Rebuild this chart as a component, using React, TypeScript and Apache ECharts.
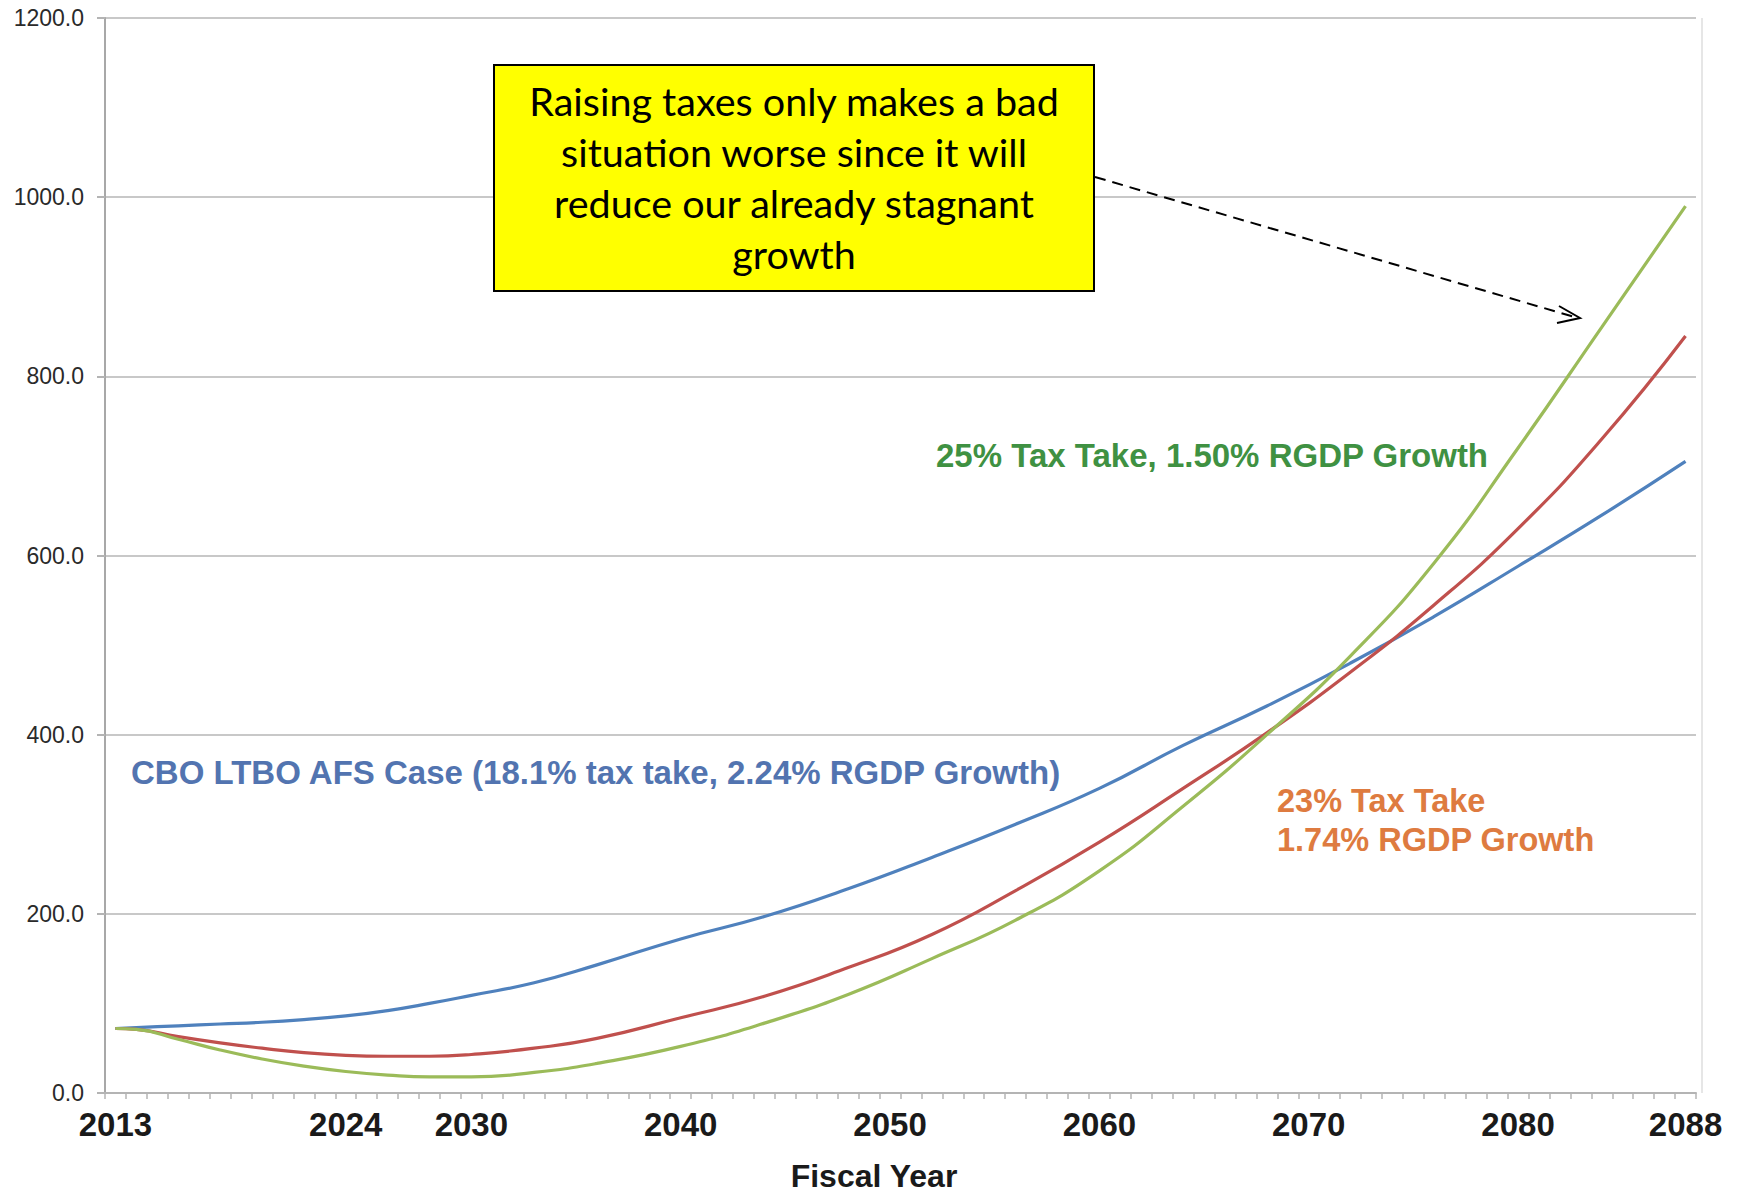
import React, { useEffect, useRef } from "react";
import * as echarts from "echarts";

// Category axis: fiscal years 2013..2088
const categoryYears: string[] = Array.from({ length: 76 }, (_, i) => String(2013 + i));
const labelYears = ["2013", "2024", "2030", "2040", "2050", "2060", "2070", "2080", "2088"];
const yTicks = [0, 200, 400, 600, 800, 1000, 1200];

const sampleYears = [2013, 2014, 2016, 2018, 2020, 2022, 2024, 2026, 2028, 2030, 2033, 2036, 2040, 2044, 2048, 2052, 2056, 2060, 2064, 2068, 2072, 2076, 2080, 2084, 2088];
const cboValues = [72, 73, 75, 77, 79, 82, 86, 92, 100, 109, 123, 143, 172, 197, 228, 263, 300, 340, 388, 432, 480, 532, 588, 645, 705];
const tax23Values = [72, 71, 63, 56, 50, 45, 42, 41, 41, 43, 50, 61, 84, 108, 140, 177, 226, 280, 340, 402, 470, 545, 630, 730, 845];
const tax25Values = [72, 71, 60, 48, 38, 30, 24, 20, 18, 18, 23, 33, 52, 78, 110, 150, 193, 248, 320, 400, 488, 592, 720, 855, 990];

const seriesNames = [
  "CBO LTBO AFS Case (18.1% tax take, 2.24% RGDP Growth)",
  "23% Tax Take 1.74% RGDP Growth",
  "25% Tax Take, 1.50% RGDP Growth",
];
const calloutText = [
  "Raising taxes only makes a bad",
  "situation worse since it will",
  "reduce our already stagnant",
  "growth",
];

const pair = (vals: number[]) => sampleYears.map((y, i) => [y, vals[i]]);

export default function App() {
  const ref = useRef<HTMLDivElement>(null);
  useEffect(() => {
    const chart = echarts.init(ref.current!, null, { renderer: "svg" });
    const mkSeries = (name: string, vals: number[], color: string) => ({
      name,
      type: "line",
      xAxisIndex: 1,
      data: pair(vals),
      smooth: 0.5,
      showSymbol: false,
      symbol: "none",
      lineStyle: { color, width: 3.2 },
    });
    chart.setOption({
      animation: false,
      backgroundColor: "#ffffff",
      grid: { left: 105, right: 48, top: 18, bottom: 101, containLabel: false },
      xAxis: [
        {
          type: "category",
          data: categoryYears,
          boundaryGap: true,
          axisLine: { show: true, lineStyle: { color: "#b4b4b4", width: 2 } },
          axisTick: { show: true, interval: 0, length: 6, lineStyle: { color: "#b4b4b4", width: 1.5 } },
          axisLabel: {
            interval: (_idx: number, value: string) => labelYears.includes(value),
            margin: 15,
            fontFamily: "Liberation Sans, Arial, sans-serif",
            fontWeight: "bold",
            fontSize: 33,
            color: "#1a1a1a",
          },
          splitLine: { show: false },
        },
        {
          type: "value",
          min: 2012.5,
          max: 2088.5,
          show: false,
          splitLine: { show: false },
        },
      ],
      yAxis: {
        type: "value",
        min: 0,
        max: 1200,
        interval: 200,
        axisLine: { show: true, lineStyle: { color: "#a8a8a8", width: 2 } },
        axisTick: { show: true, length: 8, lineStyle: { color: "#b4b4b4", width: 2 } },
        axisLabel: {
          formatter: (v: number) => (yTicks.includes(v) ? v.toFixed(1) : ""),
          margin: 21,
          fontFamily: "Liberation Sans, Arial, sans-serif",
          fontSize: 23,
          color: "#2a2a2a",
        },
        splitLine: { show: true, lineStyle: { color: "#c8c8c8", width: 2 } },
      },
      series: [
        mkSeries(seriesNames[0], cboValues, "#4f81bd"),
        mkSeries(seriesNames[1], tax23Values, "#c0504d"),
        mkSeries(seriesNames[2], tax25Values, "#9bbb59"),
      ],
      graphic: [
        {
          type: "line",
          shape: { x1: 1702, y1: 18, x2: 1702, y2: 1093 },
          style: { stroke: "#e6e6e6", lineWidth: 2 },
          silent: true,
        },
        {
          type: "text",
          x: 1212,
          y: 455,
          style: {
            text: seriesNames[2],
            fontFamily: "Liberation Sans, Arial, sans-serif",
            fontWeight: "bold",
            fontSize: 33,
            fill: "#3f9142",
            textAlign: "center",
            textVerticalAlign: "middle",
          },
        },
        {
          type: "text",
          x: 131,
          y: 772,
          style: {
            text: seriesNames[0],
            fontFamily: "Liberation Sans, Arial, sans-serif",
            fontWeight: "bold",
            fontSize: 33,
            fill: "#5274b0",
            textAlign: "left",
            textVerticalAlign: "middle",
          },
        },
        {
          type: "text",
          x: 1277,
          y: 820,
          style: {
            text: "23% Tax Take\n1.74% RGDP Growth",
            fontFamily: "Liberation Sans, Arial, sans-serif",
            fontWeight: "bold",
            fontSize: 32.5,
            lineHeight: 39,
            fill: "#de7b40",
            textAlign: "left",
            textVerticalAlign: "middle",
          },
        },
        {
          type: "text",
          x: 874,
          y: 1176,
          style: {
            text: "Fiscal Year",
            fontFamily: "Liberation Sans, Arial, sans-serif",
            fontWeight: "bold",
            fontSize: 32,
            lineHeight: 32,
            fill: "#1a1a1a",
            textAlign: "center",
            textVerticalAlign: "middle",
          },
        },
        {
          type: "rect",
          shape: { x: 494, y: 65, width: 600, height: 226 },
          style: { fill: "#ffff00", stroke: "#000000", lineWidth: 2 },
          z: 10,
        },
        {
          type: "text",
          x: 794,
          y: 177,
          z: 11,
          style: {
            text: calloutText.join("\n"),
            fontFamily: "Lato, 'Open Sans', sans-serif",
            fontSize: 39.5,
            lineHeight: 51,
            fill: "#000000",
            textAlign: "center",
            textVerticalAlign: "middle",
          },
        },
        {
          type: "line",
          shape: { x1: 1095, y1: 177, x2: 1578, y2: 318 },
          style: { stroke: "#000000", lineWidth: 2, lineDash: [11, 7] },
          z: 10,
        },
        {
          type: "polyline",
          shape: { points: [[1559, 306], [1580, 318], [1557, 323]] },
          style: { stroke: "#000000", lineWidth: 2, fill: null },
          z: 10,
        },
      ],
    });
    return () => chart.dispose();
  }, []);
  return (
    <div
      ref={ref}
      style={{ position: "fixed", left: 0, top: 0, width: 1744, height: 1194, background: "#ffffff" }}
    />
  );
}
